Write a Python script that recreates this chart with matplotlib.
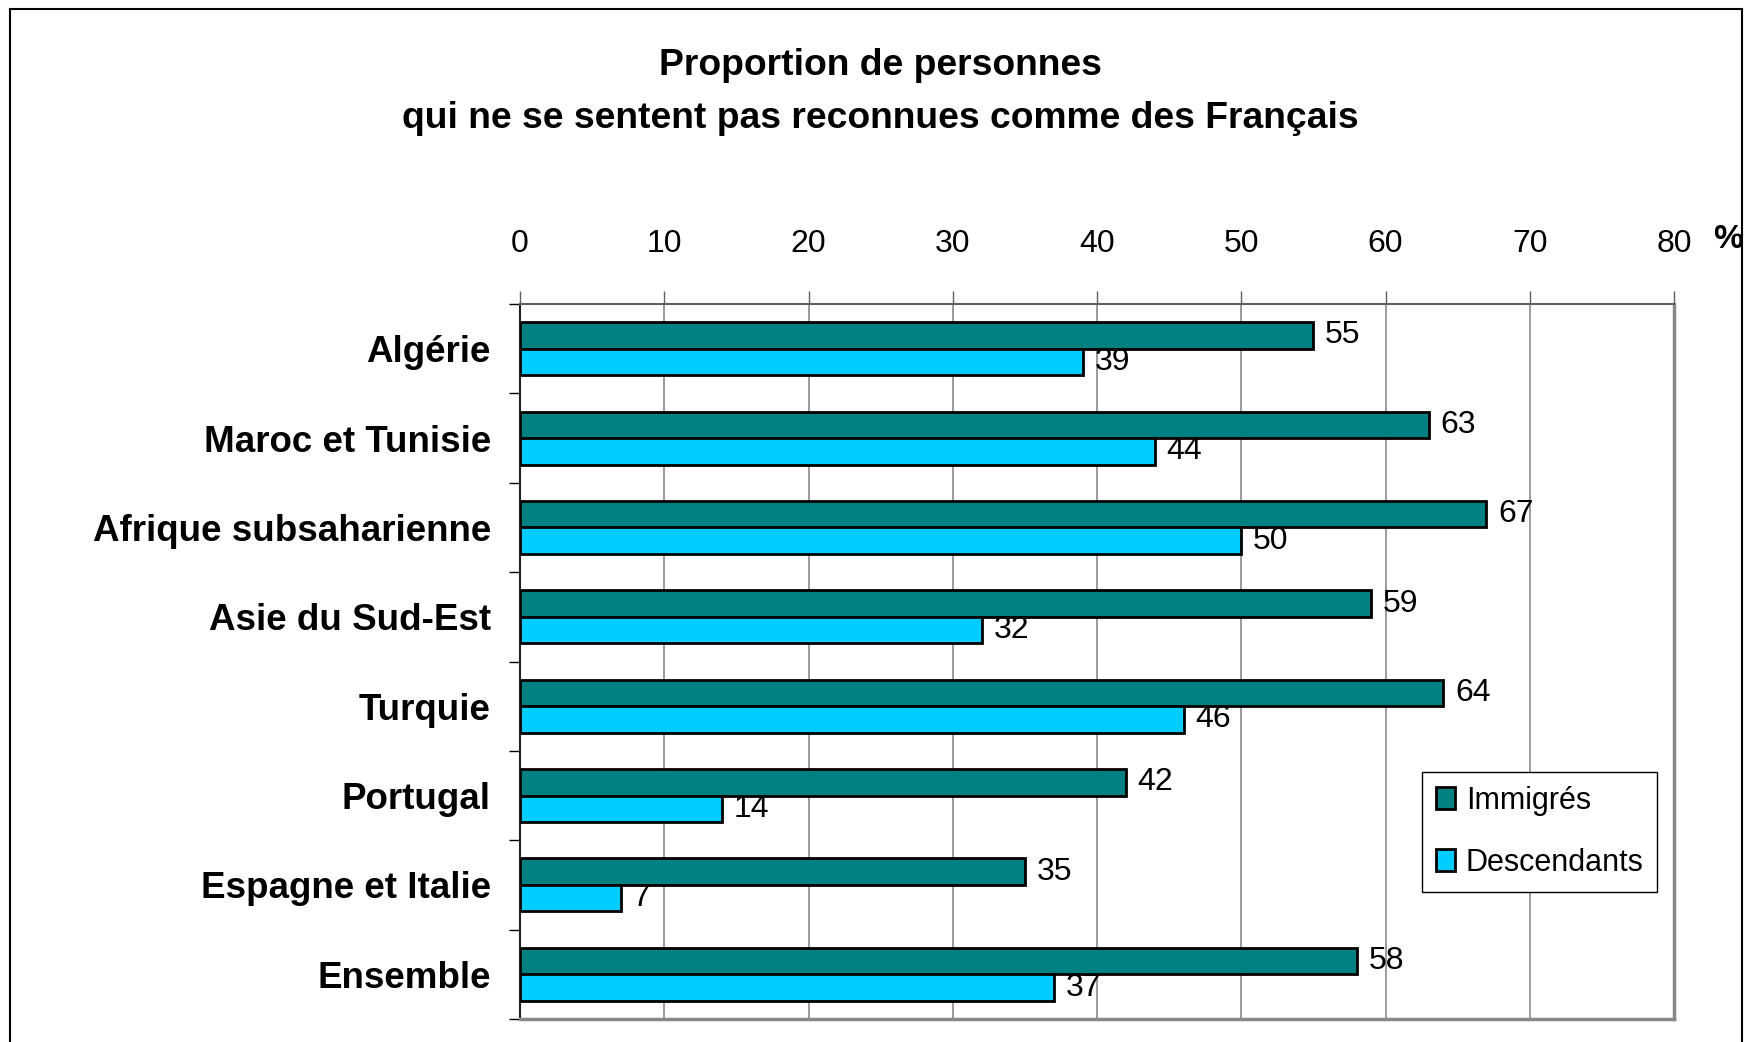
import matplotlib
matplotlib.use("Agg")
import matplotlib.pyplot as plt
import matplotlib.patches as mpatches
from matplotlib.ticker import FixedLocator, NullFormatter
import numpy as np

plt.rcParams['font.family'] = ['Liberation Sans', 'DejaVu Sans']

# Data
categories = ['Algérie', 'Maroc et Tunisie', 'Afrique subsaharienne', 'Asie du Sud-Est',
              'Turquie', 'Portugal', 'Espagne et Italie', 'Ensemble']
immigres = [55, 63, 67, 59, 64, 42, 35, 58]
descendants = [39, 44, 50, 32, 46, 14, 7, 37]
series_names = ['Immigrés', 'Descendants']
x_ticks = [0, 10, 20, 30, 40, 50, 60, 70, 80]

title_lines = ['Proportion de personnes', 'qui ne se sentent pas reconnues comme des Français']

W, H = 1755, 1042
fig = plt.figure(figsize=(W / 100, H / 100), dpi=100)
fig.patch.set_facecolor('white')

# plot area in pixels: x 520..1674, y 304..1019
ax = fig.add_axes([520 / W, 1 - 1019 / H, (1674 - 520) / W, (1019 - 304) / H])

y = np.arange(len(categories))
bar_h = 0.296
ax.barh(y - bar_h / 2, immigres, height=bar_h, color='#008080', edgecolor='black',
        linewidth=2.0, label=series_names[0], zorder=3)
ax.barh(y + bar_h / 2, descendants, height=bar_h, color='#00CCFF', edgecolor='black',
        linewidth=2.0, label=series_names[1], zorder=3)

for yi, v in zip(y, immigres):
    ax.annotate(str(v), (v, yi - bar_h / 2), xytext=(8.5, 0), textcoords='offset points',
                va='center', ha='left', fontsize=23, zorder=4)
for yi, v in zip(y, descendants):
    ax.annotate(str(v), (v, yi + bar_h / 2), xytext=(8.5, 0), textcoords='offset points',
                va='center', ha='left', fontsize=23, zorder=4)

ax.set_xlim(0, 80)
ax.set_ylim(len(categories) - 0.5, -0.5)

# x axis on top
ax.xaxis.set_ticks_position('top')
ax.xaxis.set_label_position('top')
ax.set_xticks(x_ticks)
ax.set_xticklabels([str(t) for t in x_ticks])
ax.tick_params(axis='x', direction='out', length=9.5, width=1.0, color='#606060',
               labelsize=23, pad=23)
ax.grid(axis='x', color='#808080', linewidth=1.1, zorder=0)
ax.set_axisbelow(True)

# y axis: labels at centres, tick marks at category boundaries
ax.set_yticks(y)
ax.set_yticklabels(categories, fontsize=26.5, fontweight='bold')
ax.tick_params(axis='y', which='major', length=0, pad=21)
ax.yaxis.set_minor_locator(FixedLocator(np.arange(len(categories) + 1) - 0.5))
ax.yaxis.set_minor_formatter(NullFormatter())
ax.tick_params(axis='y', which='minor', length=8, width=1.0, color='black', direction='out')

ax.spines['top'].set_color('#606060')
ax.spines['top'].set_linewidth(1.5)
ax.spines['left'].set_color('#202020')
ax.spines['left'].set_linewidth(1.5)
for side in ['right', 'bottom']:
    ax.spines[side].set_color('#888888')
    ax.spines[side].set_linewidth(2.5)

# title
fig.text(880 / W, 1 - 75 / H, title_lines[0], ha='center', va='baseline',
         fontsize=26.8, fontweight='bold')
fig.text(880 / W, 1 - 128 / H, title_lines[1], ha='center', va='baseline',
         fontsize=26.8, fontweight='bold')

# unit marker
fig.text(1713 / W, 1 - 240 / H, '%', ha='left', va='center', fontsize=24, fontweight='bold')

# legend
leg = ax.legend(loc='upper left', bbox_to_anchor=(1422 / W, 1 - 772 / H),
                bbox_transform=fig.transFigure, borderaxespad=0, fontsize=22,
                handlelength=0.62, handleheight=0.7, handletextpad=0.36,
                borderpad=0.45, labelspacing=1.05, fancybox=False, framealpha=1,
                edgecolor='black')
leg.get_frame().set_linewidth(1.0)

# outer frame
fig.patches.append(mpatches.Rectangle((10 / W, -0.05), (1742 - 10) / W, 1.05 - 9 / H,
                                      transform=fig.transFigure, fill=False,
                                      edgecolor='black', linewidth=1.5))

fig.savefig('out.png', dpi=100)
